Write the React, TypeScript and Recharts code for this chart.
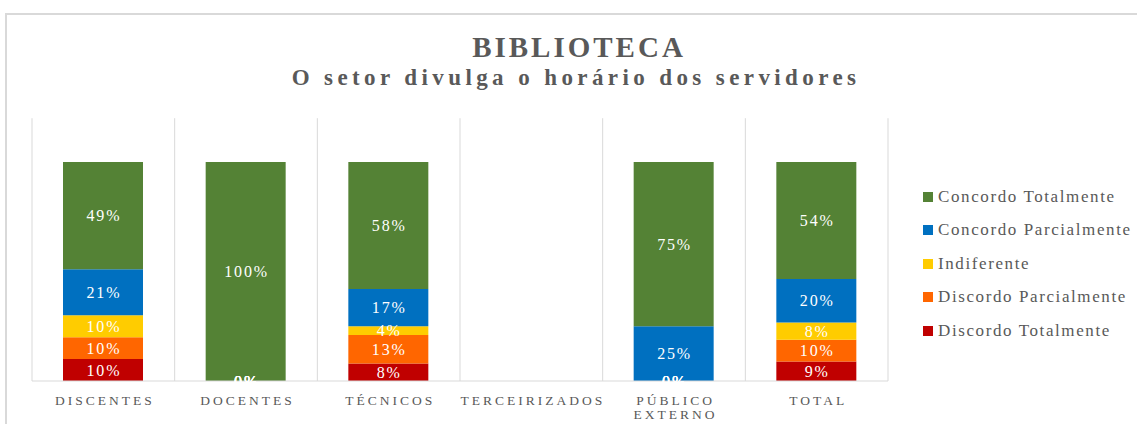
import React from 'react';
import { BarChart, Bar, XAxis, YAxis, CartesianGrid, LabelList, Legend } from 'recharts';

const categories = ['DISCENTES', 'DOCENTES', 'TÉCNICOS', 'TERCEIRIZADOS', 'PÚBLICO EXTERNO', 'TOTAL'];
const discordoTotalmente = [10, 0, 8, 0, 0, 9];
const discordoParcialmente = [10, 0, 13, 0, 0, 10];
const indiferente = [10, 0, 4, 0, 0, 8];
const concordoParcialmente = [21, 0, 17, 0, 25, 20];
const concordoTotalmente = [49, 100, 58, 0, 75, 54];

const seriesNames = ['Discordo Totalmente', 'Discordo Parcialmente', 'Indiferente', 'Concordo Parcialmente', 'Concordo Totalmente'];
const seriesKeys = ['dt', 'dp', 'ind', 'cp', 'ct'];
const seriesColors = ['#C00000', '#FF6600', '#FFCC00', '#0070C0', '#548235'];
const seriesValues = [discordoTotalmente, discordoParcialmente, indiferente, concordoParcialmente, concordoTotalmente];

const data = categories.map((c, i) => {
  const row: Record<string, any> = { name: c };
  seriesKeys.forEach((k, s) => { row[k] = seriesValues[s][i]; });
  return row;
});

const FONT = '"Liberation Serif", "Times New Roman", serif';
const GRAY = '#595959';
const HEADROOM = 0.2; // empty space above the 100% level, as a share of the 100% height

const CategoryTick = (props: any) => {
  const { x, y, payload } = props;
  const words = String(payload.value).split(' ');
  return (
    <g transform={`translate(${x},${y})`}>
      {words.map((w, i) => (
        <text key={i} x={1.5} y={16 + i * 14} textAnchor="middle" fill={GRAY} fontFamily={FONT} fontSize={13.5} letterSpacing={3}>
          {w}
        </text>
      ))}
    </g>
  );
};

const LegendContent = () => {
  const order = [4, 3, 2, 1, 0];
  return (
    <div style={{ fontFamily: FONT }}>
      {order.map((s) => (
        <div key={s} style={{ display: 'flex', alignItems: 'center', height: 33.5 }}>
          <span style={{ width: 10, height: 10, background: seriesColors[s], display: 'inline-block', marginRight: 5 }} />
          <span style={{ fontSize: 17, color: GRAY, letterSpacing: 1.6, whiteSpace: 'nowrap' }}>{seriesNames[s]}</span>
        </div>
      ))}
    </div>
  );
};

const fmt = (v: any) => `${Math.round(Number(v))}%`;

const LABEL_FONT_SIZE = 16;
const LABEL_SPACING = 1.8;

// Zero-valued segments of lower series: their labels sit at the stack base, drawn on top of the last series.
const ZeroLabels = (props: any) => {
  const { x, y, width, height, value } = props;
  const idx = Number(value);
  if (!(idx >= 0)) return null;
  const top = concordoTotalmente[idx];
  if (!top || !height) return null;
  const lowerSum = seriesValues.slice(0, 4).reduce((a, arr) => a + arr[idx], 0);
  const base = y + height + (lowerSum * height) / top;
  const zeros = seriesValues.slice(0, 4).filter((arr) => arr[idx] === 0);
  return (
    <g>
      {zeros.map((_, i) => (
        <text key={i} x={x + width / 2 + LABEL_SPACING / 2} y={base} textAnchor="middle" dominantBaseline="central" fill="#FFFFFF" fontFamily={FONT} fontSize={LABEL_FONT_SIZE} letterSpacing={LABEL_SPACING}>
          0%
        </text>
      ))}
    </g>
  );
};

const SegmentLabel = (props: any) => {
  const { x, y, width, height, value } = props;
  if (!height) return null;
  return (
    <text x={x + width / 2 + LABEL_SPACING / 2} y={y + height / 2} textAnchor="middle" dominantBaseline="central" fill="#FFFFFF" fontFamily={FONT} fontSize={LABEL_FONT_SIZE} letterSpacing={LABEL_SPACING}>
      {fmt(value)}
    </text>
  );
};

const GridLine = (props: any) => {
  const { x1, x2, y1, y2 } = props;
  const h = y2 - y1;
  return <line x1={x1} x2={x2} y1={y1 - h * HEADROOM} y2={y2} stroke="#D9D9D9" strokeWidth={1} />;
};

const categoryIndex = (entry: any) => categories.indexOf(entry?.payload?.name);

export default function App() {
  return (
    <div style={{ position: 'absolute', left: 0, top: 0, width: 1137, height: 424, overflow: 'hidden', background: '#fff' }}>
      <div style={{ position: 'absolute', left: 5, top: 13, width: 1160, height: 440, border: '2px solid #D9D9D9', boxSizing: 'border-box' }} />
      <div style={{ position: 'absolute', left: 0, top: 29, width: 1158, textAlign: 'center', fontFamily: FONT, fontWeight: 'bold', fontSize: 29, letterSpacing: 3, color: GRAY, lineHeight: '36px' }}>
        BIBLIOTECA
      </div>
      <div style={{ position: 'absolute', left: 0, top: 63, width: 1152, textAlign: 'center', fontFamily: FONT, fontWeight: 'bold', fontSize: 23, letterSpacing: 4.4, color: GRAY, lineHeight: '30px' }}>
        O setor divulga o horário dos servidores
      </div>
      <div style={{ position: 'absolute', left: 0, top: 0 }}>
        <BarChart width={1137} height={424} data={data} stackOffset="expand" margin={{ top: 162, right: 249, bottom: 0, left: 32 }} barSize={80}>
          <CartesianGrid
            horizontal={false}
            stroke="#D9D9D9"
            vertical={<GridLine />}
            verticalCoordinatesGenerator={({ offset }: any) => {
              const n = categories.length;
              return Array.from({ length: n + 1 }, (_, i) => offset.left + (offset.width * i) / n);
            }}
          />
          <XAxis dataKey="name" axisLine={{ stroke: '#D9D9D9' }} tickLine={false} tick={<CategoryTick />} interval={0} height={43} />
          <YAxis hide domain={[0, 1]} />
          <Legend layout="vertical" align="center" verticalAlign="middle" content={<LegendContent />} wrapperStyle={{ left: 923, top: 180, width: 210 }} />
          {seriesKeys.map((k, s) => (
            <Bar key={k} dataKey={k} name={seriesNames[s]} stackId="a" fill={seriesColors[s]} isAnimationActive={false}>
              <LabelList dataKey={k} content={<SegmentLabel />} />
              {s === 4 ? <LabelList valueAccessor={categoryIndex} content={<ZeroLabels />} /> : null}
            </Bar>
          ))}
        </BarChart>
      </div>
    </div>
  );
}
